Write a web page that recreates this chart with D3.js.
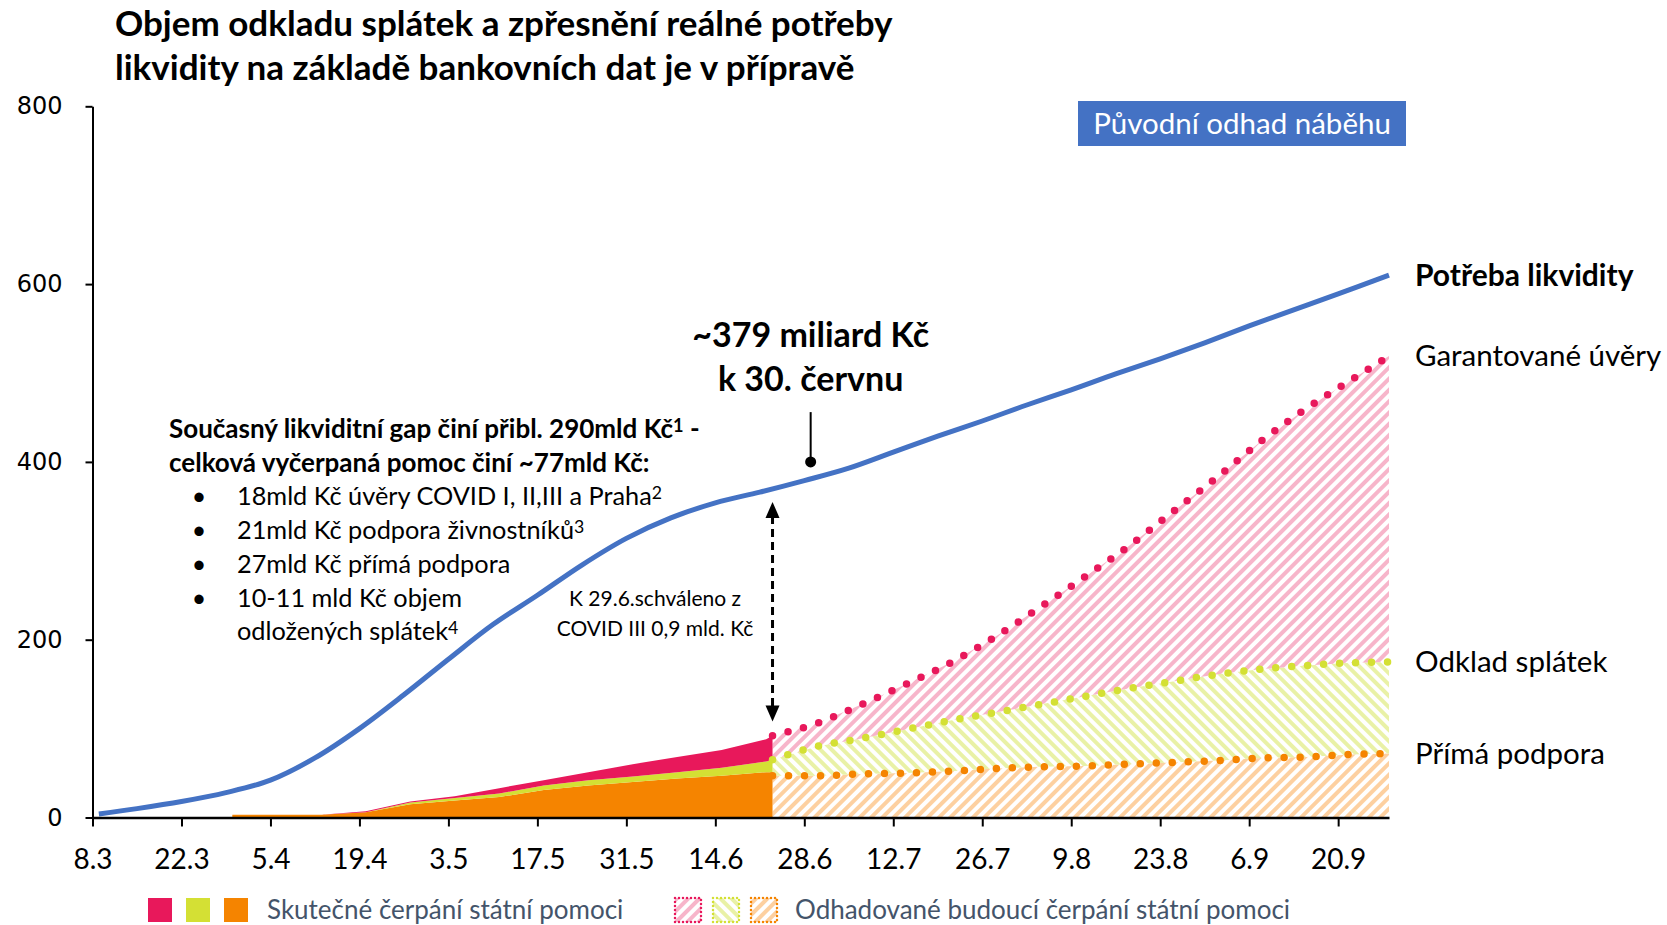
<!DOCTYPE html>
<html>
<head>
<meta charset="utf-8">
<script src="https://cdn.jsdelivr.net/npm/d3@7"></script>
<style>
  body { margin: 0; background: #fff; }
  text { font-family: Lato, "Open Sans", sans-serif; }
</style>
</head>
<body>
<div id="chart"></div>
<script>
// Potřeba likvidity (mld Kč)
var needDates = ['2020-03-09', '2020-03-15', '2020-03-22', '2020-03-29', '2020-04-05', '2020-04-12',
  '2020-04-19', '2020-04-26', '2020-05-03', '2020-05-10', '2020-05-17', '2020-05-24', '2020-05-31',
  '2020-06-07', '2020-06-14', '2020-06-21', '2020-06-28', '2020-07-05', '2020-07-12', '2020-07-19',
  '2020-07-26', '2020-08-02', '2020-08-09', '2020-08-16', '2020-08-23', '2020-08-30', '2020-09-06',
  '2020-09-13', '2020-09-20', '2020-09-28'];
var needValues = [4, 10, 18, 28, 42, 67, 100, 138, 178, 217, 250, 284, 314, 337, 354, 366, 379,
  393, 411, 429, 446, 464, 481, 499, 516, 534, 553, 571, 589, 610];

// skutečné čerpání (složky, stackované)
var actualDates = ['2020-03-30', '2020-04-06', '2020-04-13', '2020-04-20', '2020-04-27', '2020-05-04',
  '2020-05-11', '2020-05-18', '2020-05-25', '2020-06-01', '2020-06-08', '2020-06-15', '2020-06-22',
  '2020-06-23'];
var actualPrima = [3, 3, 3, 6, 15, 19, 23, 31, 36, 40, 44, 47, 51, 51];
var actualOdklad = [0, 0, 0, 0, 2, 3, 4, 5, 6, 6, 7, 9, 12, 14];
var actualGarant = [0, 0, 0, 1, 1, 2, 6, 6, 9, 14, 17, 20, 25, 27];

// odhad budoucího čerpání (kumulativní úrovně tečkovaných čar)
var estDates = ['2020-06-23', '2020-06-30', '2020-07-07', '2020-07-14', '2020-07-21', '2020-07-28',
  '2020-08-04', '2020-08-11', '2020-08-18', '2020-08-25', '2020-09-01', '2020-09-08', '2020-09-15',
  '2020-09-22', '2020-09-28'];
var estPrima = [47, 47, 49, 50, 52, 55, 57, 58, 60, 62, 64, 67, 68, 71, 72];
var estOdklad = [65, 80, 89, 99, 109, 118, 127, 136, 145, 153, 161, 167, 171, 174, 175];
var estGarant = [92, 106, 127, 150, 174, 203, 236, 270, 305, 344, 383, 424, 460, 492, 519];

var xTicks = ['2020-03-08', '2020-03-22', '2020-04-05', '2020-04-19', '2020-05-03', '2020-05-17',
  '2020-05-31', '2020-06-14', '2020-06-28', '2020-07-12', '2020-07-26', '2020-08-09', '2020-08-23',
  '2020-09-06', '2020-09-20'];
var yTicks = [0, 200, 400, 600, 800];

var RED = '#E8185B', YELLOW = '#D4E034', ORANGE = '#F58400', BLUE = '#4472C4';

var parse = d3.timeParse('%Y-%m-%d');
var W = 1667, H = 925;

var svg = d3.select('#chart').append('svg').attr('width', W).attr('height', H)
  .style('background', '#fff');

var x = d3.scaleTime().domain([parse('2020-03-08'), parse('2020-09-28')]).range([92.5, 1389]);
var y = d3.scaleLinear().domain([0, 800]).range([817.5, 106.3]);

// hatch patterns
var defs = svg.append('defs');
function hatch(id, color, angle) {
  var p = defs.append('pattern').attr('id', id).attr('patternUnits', 'userSpaceOnUse')
    .attr('width', 8).attr('height', 8).attr('patternTransform', 'rotate(' + angle + ')');
  p.append('rect').attr('width', 4).attr('height', 8).attr('fill', color);
}
hatch('hPink', '#F7B5CA', 45);
hatch('hYellow', '#E9F1A6', -45);
hatch('hOrange', '#FDD0A0', 45);

// title
var title = svg.append('text').style('font-size', '35px').style('font-weight', 'bold').attr('fill', '#000');
title.append('tspan').attr('x', 115).attr('y', 36).text('Objem odkladu splátek a zpřesnění reálné potřeby');
title.append('tspan').attr('x', 115).attr('y', 80).text('likvidity na základě bankovních dat je v přípravě');

// estimated areas
var est = estDates.map(function (d, i) {
  return { date: parse(d), p: estPrima[i], o: estOdklad[i], g: estGarant[i] };
});
svg.append('path').datum(est).attr('fill', 'url(#hOrange)')
  .attr('d', d3.area().x(function (d) { return x(d.date); }).y0(y(0)).y1(function (d) { return y(d.p); }));
svg.append('path').datum(est).attr('fill', 'url(#hYellow)')
  .attr('d', d3.area().x(function (d) { return x(d.date); })
    .y0(function (d) { return y(d.p); }).y1(function (d) { return y(d.o); }));
svg.append('path').datum(est).attr('fill', 'url(#hPink)')
  .attr('d', d3.area().x(function (d) { return x(d.date); })
    .y0(function (d) { return y(d.o); }).y1(function (d) { return y(d.g); }));

// actual stacked areas
var actual = actualDates.map(function (d, i) {
  return { date: parse(d), prima: actualPrima[i], odklad: actualOdklad[i], garant: actualGarant[i] };
});
var stack = d3.stack().keys(['prima', 'odklad', 'garant'])(actual);
var stackColors = [ORANGE, YELLOW, RED];
svg.selectAll('.actual').data(stack).enter().append('path').attr('class', 'actual')
  .attr('fill', function (d, i) { return stackColors[i]; })
  .attr('d', d3.area().x(function (d) { return x(d.data.date); })
    .y0(function (d) { return y(d[0]); }).y1(function (d) { return y(d[1]); }));

// dotted estimate lines
[['p', ORANGE], ['o', YELLOW], ['g', RED]].forEach(function (s) {
  svg.append('path').datum(est).attr('fill', 'none').attr('stroke', s[1])
    .attr('stroke-width', 7.5).attr('stroke-linecap', 'round').attr('stroke-dasharray', '0,16')
    .attr('d', d3.line().curve(d3.curveMonotoneX).x(function (d) { return x(d.date); })
      .y(function (d) { return y(d[s[0]]); }));
});

// need line
var need = needDates.map(function (d, i) { return { date: parse(d), v: needValues[i] }; });
svg.append('path').datum(need).attr('fill', 'none').attr('stroke', BLUE).attr('stroke-width', 5)
  .attr('stroke-linejoin', 'round')
  .attr('d', d3.line().curve(d3.curveCatmullRom).x(function (d) { return x(d.date); })
    .y(function (d) { return y(d.v); }));

// axes
var yAxis = svg.append('g').attr('transform', 'translate(' + x.range()[0] + ',0)')
  .call(d3.axisLeft(y).tickValues(yTicks).tickSize(7).tickSizeOuter(0).tickPadding(23));
yAxis.select('.domain').attr('stroke-width', 2);
yAxis.selectAll('line').attr('stroke-width', 2);
yAxis.selectAll('text').style('font-family', '"DejaVu Sans", sans-serif').style('font-size', '24px')
  .attr('fill', '#000');

var xAxis = svg.append('g').attr('transform', 'translate(0,' + y(0) + ')')
  .call(d3.axisBottom(x).tickValues(xTicks.map(parse)).tickFormat(d3.timeFormat('%-d.%-m'))
    .tickSize(9).tickSizeOuter(0));
xAxis.select('.domain').attr('stroke-width', 2.5);
xAxis.selectAll('line').attr('stroke-width', 2);
xAxis.selectAll('text').attr('y', 51).attr('dy', null).style('font-size', '28px')
  .style('font-family', 'Lato, sans-serif').attr('fill', '#000');

// right labels
var labelData = [
  { t: 'Potřeba likvidity', v: needValues[needValues.length - 1], b: true },
  { t: 'Garantované úvěry', v: estGarant[estGarant.length - 1] },
  { t: 'Odklad splátek', v: estOdklad[estOdklad.length - 1] },
  { t: 'Přímá podpora', v: estPrima[estPrima.length - 1] }
];
svg.selectAll('.rlab').data(labelData).enter().append('text').attr('class', 'rlab')
  .attr('x', 1415).attr('y', function (d) { return y(d.v); }).attr('dy', '0.35em')
  .style('font-size', function (d) { return d.b ? '30px' : '29.5px'; })
  .style('font-weight', function (d) { return d.b ? 'bold' : 'normal'; })
  .text(function (d) { return d.t; });

// box
svg.append('rect').attr('x', 1078).attr('y', 101).attr('width', 328).attr('height', 45).attr('fill', BLUE);
svg.append('text').attr('x', 1242).attr('y', 124).attr('dy', '0.35em').attr('text-anchor', 'middle')
  .attr('fill', '#fff').style('font-size', '29.5px').text('Původní odhad náběhu');

// annotation ~379
var annDate = parse('2020-06-29');
svg.append('text').attr('x', x(annDate)).attr('y', 347).attr('text-anchor', 'middle')
  .style('font-size', '34px').style('font-weight', 'bold').text('~379 miliard Kč');
svg.append('text').attr('x', x(annDate)).attr('y', 391).attr('text-anchor', 'middle')
  .style('font-size', '34px').style('font-weight', 'bold').text('k 30. červnu');
svg.append('line').attr('x1', x(annDate)).attr('x2', x(annDate)).attr('y1', y(456)).attr('y2', y(400))
  .attr('stroke', '#000').attr('stroke-width', 2);
svg.append('circle').attr('cx', x(annDate)).attr('cy', y(400)).attr('r', 5.5).attr('fill', '#000');

// dashed gap arrow
var gapDate = parse('2020-06-23');
var gx = x(gapDate), gTop = y(355), gBot = y(108);
svg.append('line').attr('x1', gx).attr('x2', gx).attr('y1', gTop + 14).attr('y2', gBot - 14)
  .attr('stroke', '#000').attr('stroke-width', 3).attr('stroke-dasharray', '8,5');
svg.append('path').attr('fill', '#000')
  .attr('d', 'M' + gx + ',' + gTop + 'l-7,16h14z');
svg.append('path').attr('fill', '#000')
  .attr('d', 'M' + gx + ',' + gBot + 'l-7,-16h14z');

svg.append('text').attr('x', 655).attr('y', 606).attr('text-anchor', 'middle')
  .style('font-size', '21px').text('K 29.6.schváleno z');
svg.append('text').attr('x', 655).attr('y', 636).attr('text-anchor', 'middle')
  .style('font-size', '21px').text('COVID III 0,9 mld. Kč');

// text block
function supText(sel, main, sup, tail) {
  sel.append('tspan').text(main);
  sel.append('tspan').attr('baseline-shift', '35%').style('font-size', '70%').text(sup);
  if (tail) sel.append('tspan').text(tail);
}
var t1 = svg.append('text').attr('x', 169).attr('y', 438).style('font-size', '26px').style('font-weight', 'bold');
supText(t1, 'Současný likviditní gap činí přibl. 290mld Kč', '1', ' -');
svg.append('text').attr('x', 169).attr('y', 472).style('font-size', '26px').style('font-weight', 'bold')
  .text('celková vyčerpaná pomoc činí ~77mld Kč:');

var bullets = [
  ['18mld Kč úvěry COVID I, II,III a Praha', '2', 505, true],
  ['21mld Kč podpora živnostníků', '3', 539, true],
  ['27mld Kč přímá podpora', '', 573, true],
  ['10-11 mld Kč objem', '', 607, true],
  ['odložených splátek', '4', 640, false]
];
bullets.forEach(function (b) {
  if (b[3]) svg.append('text').attr('x', 199).attr('y', b[2]).attr('text-anchor', 'middle')
    .style('font-size', '25px').text('•');
  var t = svg.append('text').attr('x', 237).attr('y', b[2]).style('font-size', '25.3px');
  supText(t, b[0], b[1]);
});

// legend
var lg = svg.append('g');
[RED, YELLOW, ORANGE].forEach(function (c, i) {
  lg.append('rect').attr('x', 148 + i * 38).attr('y', 898).attr('width', 24).attr('height', 24).attr('fill', c);
});
lg.append('text').attr('x', 267).attr('y', 910).attr('dy', '0.35em').attr('fill', '#44546A')
  .style('font-size', '26px').text('Skutečné čerpání státní pomoci');
[['hPink', RED], ['hYellow', YELLOW], ['hOrange', ORANGE]].forEach(function (h, i) {
  lg.append('rect').attr('x', 675 + i * 38).attr('y', 898).attr('width', 26).attr('height', 24)
    .attr('fill', 'url(#' + h[0] + ')').attr('stroke', h[1]).attr('stroke-width', 2.5)
    .attr('stroke-dasharray', '0,4').attr('stroke-linecap', 'round');
});
lg.append('text').attr('x', 795).attr('y', 910).attr('dy', '0.35em').attr('fill', '#44546A')
  .style('font-size', '26px').text('Odhadované budoucí čerpání státní pomoci');
</script>
</body>
</html>
